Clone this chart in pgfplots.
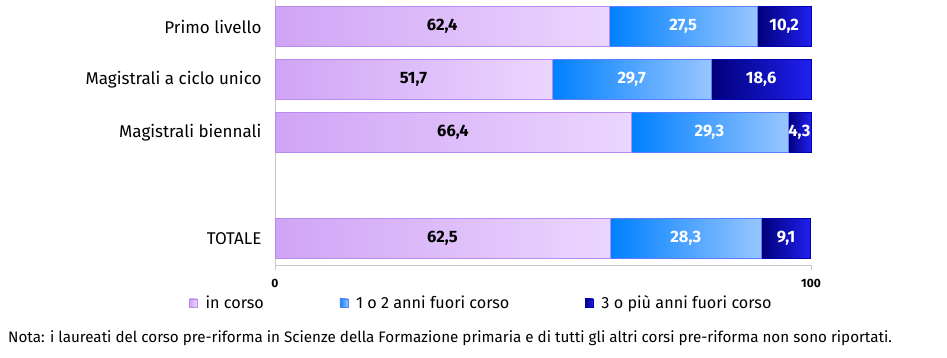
\documentclass[border=0pt]{standalone}
\usepackage{fontspec}
\setmainfont{Fira Sans}
\usepackage{pgfplots}
\pgfplotsset{compat=1.18}
\definecolor{pA}{HTML}{D0A4F5}
\definecolor{pM}{HTML}{DDBDFA}
\definecolor{pB}{HTML}{EBD6FF}
\definecolor{pE}{HTML}{B98BEF}
\definecolor{bA}{HTML}{0080FF}
\definecolor{bM}{HTML}{168CFF}
\definecolor{bB}{HTML}{98C6FF}
\definecolor{bE}{HTML}{5A7CFF}
\definecolor{nA}{HTML}{00007A}
\definecolor{nM}{HTML}{0000CC}
\definecolor{nB}{HTML}{2020F0}
\definecolor{nE}{HTML}{0000B0}
\definecolor{axgray}{HTML}{C8C8C8}
\pgfplotsset{
  segA/.style={draw=pE, left color=pA, middle color=pM, right color=pB, text=black},
  segB/.style={draw=bE, left color=bA, middle color=bM, right color=bB, text=white},
  segC/.style={draw=nE, left color=nA, middle color=nM, right color=nB, text=white},
  rowaxis/.style={
    anchor=south west, at={(275pt,{92pt+#1*53pt})},
    scale only axis, width=536pt, height=53pt,
    xmin=0, xmax=100, ymin=-0.5, ymax=0.5, hide axis, clip=false,
    xbar stacked, bar width=40pt,
    point meta=explicit,
    nodes near coords={\pgfmathprintnumber[fixed,fixed zerofill,precision=1,use comma,assume math mode=true]{\pgfplotspointmeta}},
    every node near coord/.append style={font=\fontsize{16.5}{18}\selectfont\bfseries, anchor=center},
  },
}
\begin{document}
\begin{tikzpicture}
\path[use as bounding box] (0pt,0pt) rectangle (947pt,357pt);
% frame, ticks, labels and legend
\begin{axis}[
  at={(275pt,92pt)}, anchor=south west,
  scale only axis, width=536pt, height=265pt,
  xmin=0, xmax=100, ymin=-0.5, ymax=4.5,
  axis x line*=bottom, axis y line*=left,
  axis line style={draw=axgray, line width=1pt, -},
  xtick={0,100}, xtick align=outside, major tick length=5pt,
  xtick style={draw=axgray},
  /pgf/number format/assume math mode=true,
  xticklabel style={font=\fontsize{12}{14}\selectfont\bfseries, yshift=-6pt},
  ytick={0,2,3,4},
  yticklabels={TOTALE, Magistrali biennali, Magistrali a ciclo unico, Primo livello},
  ytick style={draw=none},
  yticklabel style={font=\fontsize{17}{19}\selectfont, xshift=-10pt},
  legend columns=3,
  legend style={at={(-0.166,-0.143)}, anchor=west, draw=none, fill=none,
     font=\fontsize{16.2}{18}\selectfont,
     /tikz/every odd column/.append style={column sep=6pt},
     /tikz/every even column/.append style={column sep=0pt}},
  legend image code/.code={\draw[#1] (0pt,-4pt) rectangle (8pt,4pt);},
]
\addlegendimage{segA}
\addlegendentry{\makebox[132pt][l]{in corso}}
\addlegendimage{segB}
\addlegendentry{\makebox[227pt][l]{1 o 2 anni fuori corso}}
\addlegendimage{segC}
\addlegendentry{3 o più anni fuori corso}
\end{axis}
% Primo livello
\begin{axis}[rowaxis=4]
\addplot[segA] coordinates {(62.4,0) [62.4]};
\addplot[segB] coordinates {(27.5,0) [27.5]};
\addplot[segC] coordinates {(10.2,0) [10.2]};
\end{axis}
% Magistrali a ciclo unico
\begin{axis}[rowaxis=3]
\addplot[segA] coordinates {(51.7,0) [51.7]};
\addplot[segB] coordinates {(29.7,0) [29.7]};
\addplot[segC] coordinates {(18.6,0) [18.6]};
\end{axis}
% Magistrali biennali
\begin{axis}[rowaxis=2]
\addplot[segA] coordinates {(66.4,0) [66.4]};
\addplot[segB] coordinates {(29.3,0) [29.3]};
\addplot[segC] coordinates {(4.3,0) [4.3]};
\end{axis}
% TOTALE
\begin{axis}[rowaxis=0]
\addplot[segA] coordinates {(62.5,0) [62.5]};
\addplot[segB] coordinates {(28.3,0) [28.3]};
\addplot[segC] coordinates {(9.1,0) [9.1]};
\end{axis}
\node[anchor=west, font=\fontsize{15.2}{17}\selectfont, inner sep=0pt] at (8pt,19pt)
  {Nota: i laureati del corso pre-riforma in Scienze della Formazione primaria e di tutti gli altri corsi pre-riforma non sono riportati.};
\end{tikzpicture}
\end{document}
